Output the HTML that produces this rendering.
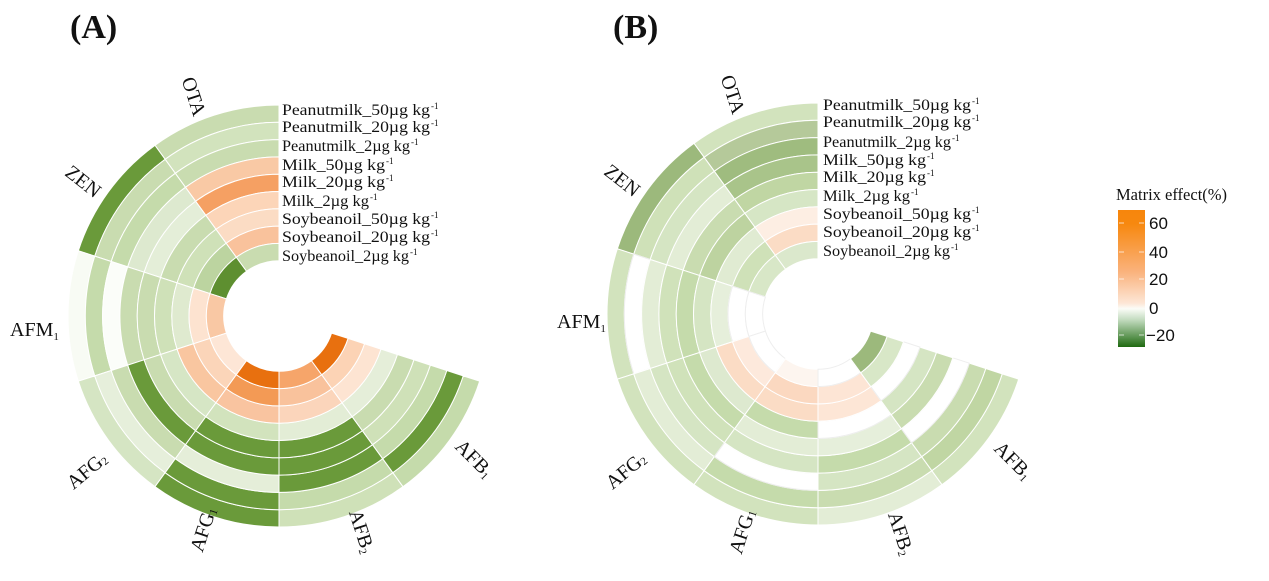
<!DOCTYPE html>
<html><head><meta charset="utf-8"><style>
html,body{margin:0;padding:0;background:#fff;}
svg{display:block;}
text{font-family:"Liberation Serif",serif;fill:#111;}
</style></head><body>
<svg id="s" width="1269" height="581" viewBox="0 0 1269 581" xmlns="http://www.w3.org/2000/svg">
<defs>
<linearGradient id="g" x1="0" y1="0" x2="0" y2="1">
<stop offset="0" stop-color="#f7860c"/>
<stop offset="0.1" stop-color="#f7880f"/>
<stop offset="0.45" stop-color="#fab27c"/>
<stop offset="0.68" stop-color="#fde6d6"/>
<stop offset="0.72" stop-color="#fbfcf8"/>
<stop offset="0.8" stop-color="#c4dcc0"/>
<stop offset="1" stop-color="#1f6a10"/>
</linearGradient>
</defs>
<g id="cells"></g>
<text x="70" y="38" font-size="34" font-weight="bold">(A)</text>
<text x="613" y="38" font-size="34" font-weight="bold">(B)</text>
<g font-size="20">
<text transform="translate(192,97) rotate(72)" text-anchor="middle" dominant-baseline="middle">OTA</text>
<text transform="translate(82,183) rotate(38)" text-anchor="middle" dominant-baseline="middle">ZEN</text>
<text x="10" y="336">AFM<tspan font-size="11" dy="4">1</tspan></text>
<text transform="translate(88,472) rotate(-40)" text-anchor="middle" dominant-baseline="middle">AFG<tspan font-size="11" dy="3">2</tspan></text>
<text transform="translate(205,530) rotate(-72)" text-anchor="middle" dominant-baseline="middle">AFG<tspan font-size="11" dy="3">1</tspan></text>
<text transform="translate(360,532) rotate(72)" text-anchor="middle" dominant-baseline="middle">AFB<tspan font-size="11" dy="4">2</tspan></text>
<text transform="translate(473,460) rotate(45)" text-anchor="middle" dominant-baseline="middle">AFB<tspan font-size="11" dy="4">1</tspan></text>

<text transform="translate(731,95) rotate(72)" text-anchor="middle" dominant-baseline="middle">OTA</text>
<text transform="translate(621,182) rotate(38)" text-anchor="middle" dominant-baseline="middle">ZEN</text>
<text x="557" y="328">AFM<tspan font-size="11" dy="4">1</tspan></text>
<text transform="translate(627,472) rotate(-40)" text-anchor="middle" dominant-baseline="middle">AFG<tspan font-size="11" dy="3">2</tspan></text>
<text transform="translate(744,532) rotate(-72)" text-anchor="middle" dominant-baseline="middle">AFG<tspan font-size="11" dy="3">1</tspan></text>
<text transform="translate(899,534) rotate(72)" text-anchor="middle" dominant-baseline="middle">AFB<tspan font-size="11" dy="4">2</tspan></text>
<text transform="translate(1012,462) rotate(45)" text-anchor="middle" dominant-baseline="middle">AFB<tspan font-size="11" dy="4">1</tspan></text>
</g>
<g id="labs" font-size="15.5"></g>
<text x="1116" y="200" font-size="16.5">Matrix effect(%)</text>
<rect x="1118" y="210" width="27" height="137" fill="url(#g)"/>
<g stroke="#fff" stroke-width="1" opacity="0.7">
<line x1="1119" y1="223" x2="1124" y2="223"/><line x1="1139" y1="223" x2="1144" y2="223"/>
<line x1="1119" y1="252" x2="1124" y2="252"/><line x1="1139" y1="252" x2="1144" y2="252"/>
<line x1="1119" y1="279" x2="1124" y2="279"/><line x1="1139" y1="279" x2="1144" y2="279"/>
<line x1="1119" y1="335" x2="1124" y2="335"/><line x1="1139" y1="335" x2="1144" y2="335"/>
</g>
<g font-size="17">
<text x="1149" y="229" style="font-family:'Liberation Sans',sans-serif">60</text>
<text x="1149" y="258" style="font-family:'Liberation Sans',sans-serif">40</text>
<text x="1149" y="285" style="font-family:'Liberation Sans',sans-serif">20</text>
<text x="1149" y="314" style="font-family:'Liberation Sans',sans-serif">0</text>
<text x="1146" y="341" style="font-family:'Liberation Sans',sans-serif">−20</text>
</g>
</svg>
<script>
var A=[
["c9dcb0","d2e3bd","c9dcb0","f9c9a5","f5a063","fcd5b8","fbdcc4","f9c29c","c9dcb0"],
["6a9a3a","c9dcb0","c5dbab","dde9cf","e4eed8","c9dcb0","cfe1b8","bcd4a0","5e8f30"],
["f8fbf4","c5dbab","fbfdf9","c9dcb0","c9dcb0","cfe1b8","dfeacf","fde3d0","f9c8a4"],
["d5e5c3","e6efdb","c9dcb0","6a9a3a","c9dcb0","d6e6c5","f9c6a0","fbd5b9","fde6d6"],
["6a9a3a","6a9a3a","e5eed9","6a9a3a","6a9a3a","d2e3bd","f9c4a0","f39a55","e8700f"],
["cfe1b8","c5dbab","6a9a3a","6a9a3a","6a9a3a","e3edd6","fbd5bb","f9c29c","f6a56a"],
["c5dbab","6a9a3a","c5dbab","cfe1b8","c9dcb0","e5eed9","fde4d2","fcd3b5","e8700f"]];
var B=[
["d2e3bd","b5c99a","9fbc7f","a9c48a","c0d6a3","d6e6c5","fdeee3","fbdcc5","dbe8cc"],
["9cb97c","cfe1b8","d5e5c3","e3edd6","c9dcb0","bdd3a0","e0ebd2","cfe1b8","d8e7c7"],
["d2e3bd","ffffff","e3edd6","d0e2ba","c5dbab","d5e5c3","e6efdb","ffffff","ffffff"],
["d2e3bd","e3edd6","d5e5c3","d0e2ba","c5dbab","dde9cf","fbdcc5","fde9dc","ffffff"],
["d2e3bd","c5dbab","ffffff","d5e5c3","e3edd6","c5dbab","fbdcc5","fbd8c0","fdf5ef"],
["e3edd6","c9dcb0","d5e5c3","c5dbab","e6efdb","ffffff","fde6d6","fde5d5","ffffff"],
["d2e3bd","c0d6a3","c9dcb0","ffffff","c9dcb0","d5e5c3","ffffff","d8e7c7","9cb97c"]];
var NS="http://www.w3.org/2000/svg",g=document.getElementById("cells");
function pt(cx,cy,r,t){t=t*Math.PI/180;return [(cx+r*Math.sin(t)).toFixed(2),(cy-r*Math.cos(t)).toFixed(2)];}
function draw(cx,cy,data){
 var R=211,w=17.3;
 for(var s=0;s<7;s++){var a1=-36*s,a2=-36*(s+1);
  for(var k=0;k<9;k++){var ro=R-k*w,ri=ro-w;
   var p1=pt(cx,cy,ro,a1),p2=pt(cx,cy,ro,a2),p3=pt(cx,cy,ri,a2),p4=pt(cx,cy,ri,a1);
   var d="M"+p1+"A"+ro+","+ro+" 0 0 0 "+p2+"L"+p3+"A"+ri+","+ri+" 0 0 1 "+p4+"Z";
   var e=document.createElementNS(NS,"path");e.setAttribute("d",d);
   var white=data[s][k]=="ffffff";
   e.setAttribute("fill","#"+data[s][k]);e.setAttribute("stroke",white?"#eeeeee":"#ffffff");e.setAttribute("stroke-width","1");
   g.appendChild(e);}}
}
draw(279,316,A);draw(818,314,B);
var L=[["Peanutmilk_50µg kg","-1"],["Peanutmilk_20µg kg","-1"],["Peanutmilk_2µg kg","-1"],["Milk_50µg kg","-1"],["Milk_20µg kg","-1"],["Milk_2µg kg","-1"],["Soybeanoil_50µg kg","-1"],["Soybeanoil_20µg kg","-1"],["Soybeanoil_2µg kg","-1"]];
var lg=document.getElementById("labs");
var ya=[115,132,151,170,187,206,224,242,261],yb=[110,127,147,165,182,201,219,237,256];
function lab(x,ys){for(var i=0;i<9;i++){var t=document.createElementNS(NS,"text");t.setAttribute("x",x);t.setAttribute("y",ys[i]);
 var len=i<3||i>5?(i==2?128:(i==8?127:148)):(i==5?87:103);
 t.setAttribute("textLength",len);t.setAttribute("lengthAdjust","spacingAndGlyphs");
 t.textContent=L[i][0];lg.appendChild(t);
 var tt=document.createElementNS(NS,"text");tt.setAttribute("font-size","9");
 tt.setAttribute("x",x+len+1);tt.setAttribute("y",ys[i]-6);tt.textContent="-1";lg.appendChild(tt);}}
lab(282,ya);lab(823,yb);
</script>
</body></html>
